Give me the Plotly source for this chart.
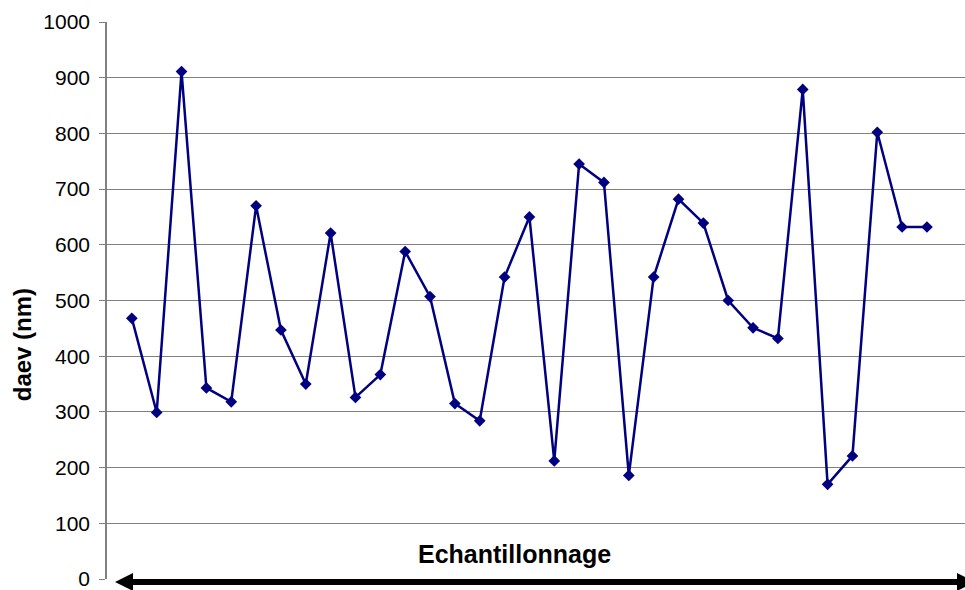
import plotly.graph_objects as go

samples = list(range(1, 34))
daev = [468, 299, 911, 343, 318, 670, 447, 350, 621, 326, 367, 588, 507, 315, 284,
        542, 650, 212, 745, 712, 186, 542, 682, 639, 500, 451, 432, 879, 170, 221,
        802, 632, 632]
y_ticks = [0, 100, 200, 300, 400, 500, 600, 700, 800, 900, 1000]
x_title = "Echantillonnage"
y_title = "daev (nm)"

fig = go.Figure()
fig.add_trace(go.Scatter(
    x=samples, y=daev, mode="lines+markers",
    line=dict(color="#000080", width=2.5),
    marker=dict(symbol="diamond", size=9, color="#000080"),
    showlegend=False, cliponaxis=False,
))

x_max = 34.53
fig.update_layout(
    width=965, height=590,
    margin=dict(l=107, r=0, t=22, b=8),
    paper_bgcolor="white", plot_bgcolor="white",
    font=dict(family="Liberation Sans, Arial, sans-serif", color="black"),
    xaxis=dict(range=[0, x_max], showgrid=False, showticklabels=False, zeroline=False,
               showline=False, ticks=""),
    yaxis=dict(range=[0, 1000], tickvals=y_ticks, showgrid=True, gridcolor="#808080",
               gridwidth=1, zeroline=False, showline=True, linecolor="#808080",
               linewidth=1.5, ticks="outside", ticklen=6, tickcolor="#808080",
               tickfont=dict(size=21), ticklabelstandoff=5, ticklabeloverflow="allow"),
)

# Horizontal double-headed arrow (decorative x axis)
def px(x):
    return (x - 107) / 858.0

def py(y):
    return (582 - y) / 560.0

fig.add_shape(type="line", xref="paper", yref="paper",
              x0=px(128), x1=px(960), y0=py(585), y1=py(585),
              line=dict(color="black", width=6), layer="above")
fig.add_shape(type="path", xref="paper", yref="paper", layer="above",
              path=f"M {px(115)} {py(585)} L {px(133)} {py(576)} L {px(133)} {py(594)} Z",
              fillcolor="black", line=dict(color="black", width=0))
fig.add_shape(type="path", xref="paper", yref="paper", layer="above",
              path=f"M {px(975)} {py(585)} L {px(957)} {py(576)} L {px(957)} {py(594)} Z",
              fillcolor="black", line=dict(color="black", width=0))

fig.add_annotation(x=0.4755, xref="paper", y=py(557), yref="paper", text="<b>" + x_title + "</b>",
                   showarrow=False, font=dict(size=25), xanchor="center", yanchor="middle")
fig.add_annotation(x=px(22), xref="paper", y=py(347), yref="paper", text="<b>" + y_title + "</b>",
                   showarrow=False, font=dict(size=24), textangle=-90,
                   xanchor="center", yanchor="middle")

fig.write_html("out.html", config={"displayModeBar": False},
               post_script="document.body.style.margin='0';document.body.style.overflow='hidden';")
